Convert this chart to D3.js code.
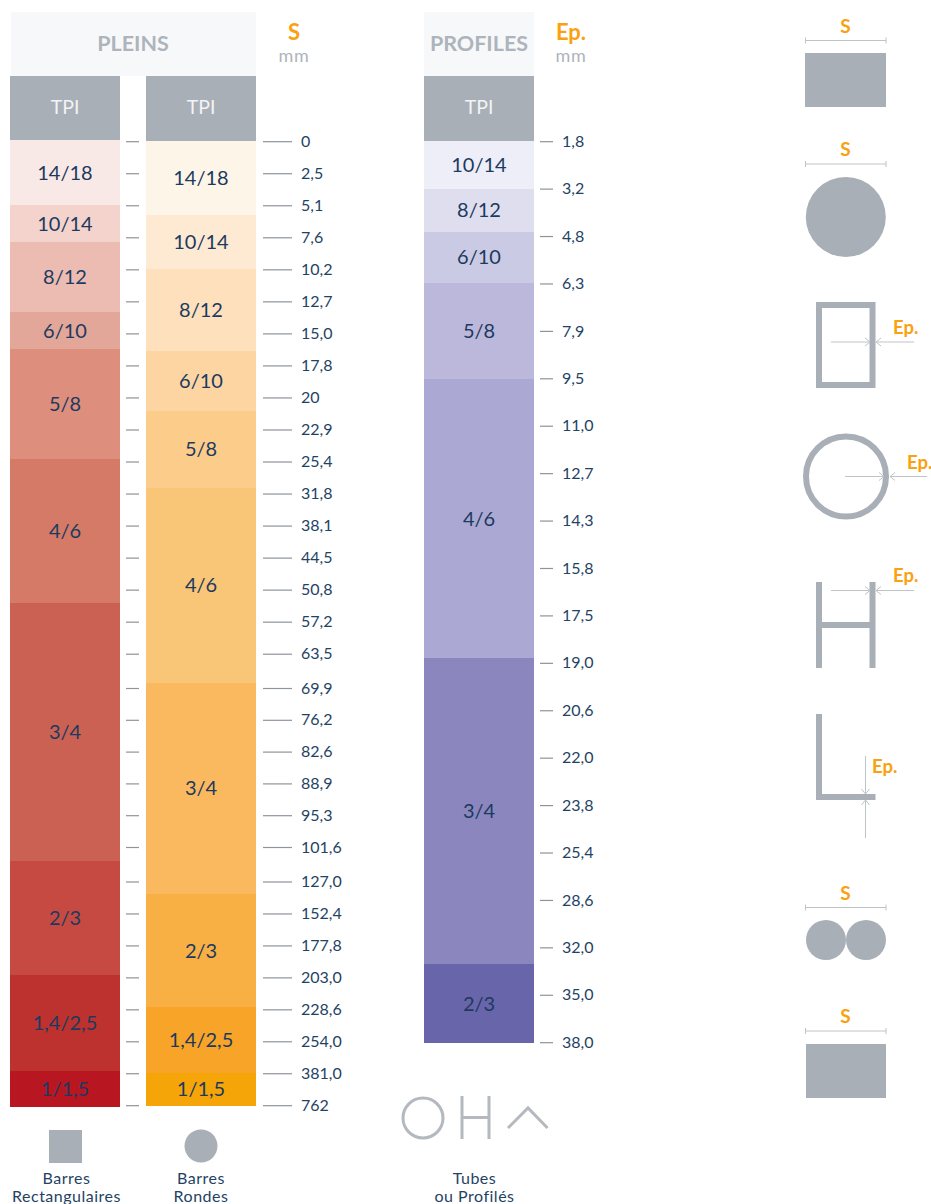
<!DOCTYPE html>
<html>
<head>
<meta charset="utf-8">
<script src="https://cdn.jsdelivr.net/npm/d3@7"></script>
<style>
  body { margin: 0; background: #fff; overflow: hidden; }
  text { font-family: Lato, "Noto Sans", sans-serif; }
</style>
</head>
<body>
<div id="chart"></div>
<script>
// tick labels (mm)
const sizeTicks = ['0','2,5','5,1','7,6','10,2','12,7','15,0','17,8','20','22,9','25,4','31,8','38,1','44,5','50,8','57,2','63,5','69,9','76,2','82,6','88,9','95,3','101,6','127,0','152,4','177,8','203,0','228,6','254,0','381,0','762'];
const epTicks = ['1,8','3,2','4,8','6,3','7,9','9,5','11,0','12,7','14,3','15,8','17,5','19,0','20,6','22,0','23,8','25,4','28,6','32,0','35,0','38,0'];

// TPI bands, edges are read as positions on the tick rows
const rectTpi = ['14/18','10/14','8/12','6/10','5/8','4/6','3/4','2/3','1,4/2,5','1/1,5'];
const rectEdges = [-0.03, 2, 3.15, 5.33, 6.49, 9.92, 14.41, 22.41, 25.93, 28.93, 30.06];
const rectColors = ['#f9e9e6','#f3d3cc','#ecbcb2','#e3a799','#dd8e7c','#d57a67','#cb6152','#c64a41','#bd322e','#b81620'];

const roundTpi = ['14/18','10/14','8/12','6/10','5/8','4/6','3/4','2/3','1,4/2,5','1/1,5'];
const roundEdges = [0, 2.3, 3.99, 6.55, 8.42, 10.82, 16.85, 23.39, 26.93, 28.99, 30.02];
const roundColors = ['#fef5e9','#fee9d2','#fee0bd','#fdd5a3','#fccc8b','#f9c577','#fbb95f','#f8b044','#f8a428','#f6a508'];

const profileTpi = ['10/14','8/12','6/10','5/8','4/6','3/4','2/3'];
const profileEdges = [0, 1, 1.91, 2.98, 5.02, 10.9, 17.36, 19.02];
const profileColors = ['#eeeef8','#dfdeef','#cacae4','#bcb8db','#aba8d3','#8b86be','#6965ab'];

// Constant
const width = 931;
const height = 1204;
const colWidth = 110;
const grey = '#a9afb6';
const titleGrey = '#aeb4bb';
const lightLine = '#bfc4c9';
const orange = '#f9a10e';
const navy = '#1c3a5f';
const tickText = '#1f4364';
const smallText = '16px';

const svg = d3.select('#chart').append('svg')
    .attr('width', width)
    .attr('height', height);

// the rows are not quite even, there are wider gaps after 63,5 and 101,6
const sizeRow = d3.scaleLinear().domain([0, 16, 17, 22, 23, 30]).range([141.2, 653.7, 688, 847, 881.5, 1105.2]);
const epRow = d3.scaleLinear().domain([0, epTicks.length - 1]).range([141.2, 1042.2]);
const sizeY = d3.scaleOrdinal().domain(sizeTicks).range(sizeTicks.map((d, i) => sizeRow(i)));
const epY = d3.scaleOrdinal().domain(epTicks).range(epTicks.map((d, i) => epRow(i)));

const label = (x, y, str, size, color, weight) => svg.append('text')
    .attr('x', x)
    .attr('y', y)
    .attr('text-anchor', 'middle')
    .style('font-size', size + 'px')
    .style('font-weight', weight || 400)
    .attr('fill', color)
    .text(str);

// headers
svg.append('rect').attr('x', 11).attr('y', 12).attr('width', 245).attr('height', 64).attr('fill', '#f7f8fa');
svg.append('rect').attr('x', 424).attr('y', 12).attr('width', 110).attr('height', 64).attr('fill', '#f7f8fa');
label(133, 51, 'PLEINS', 21.5, titleGrey, 700);
label(479, 51, 'PROFILES', 21.5, titleGrey, 700);
label(294, 40, 'S', 22, orange, 700);
label(294, 62, 'mm', 18, titleGrey).style('letter-spacing', '0.6px');
label(571, 40, 'Ep.', 22, orange, 700);
label(571, 62, 'mm', 18, titleGrey).style('letter-spacing', '0.6px');

const drawColumn = (x, tpi, edges, colors, rowScale) => {
    svg.append('rect').attr('x', x).attr('y', 76).attr('width', colWidth).attr('height', rowScale(edges[0]) - 76).attr('fill', grey).attr('shape-rendering', 'crispEdges');
    label(x + colWidth / 2, 114, 'TPI', 19.5, '#f2f3f5');

    const bands = d3.pairs(edges).map((d, i) => ({ y0: d[0], y1: d[1], name: tpi[i], color: colors[i] }));
    const g = svg.append('g');
    g.selectAll('rect')
        .data(bands)
        .join('rect')
        .attr('shape-rendering', 'crispEdges')
        .attr('x', x)
        .attr('y', d => rowScale(d.y0))
        .attr('width', colWidth)
        .attr('height', d => rowScale(d.y1) - rowScale(d.y0))
        .attr('fill', d => d.color);
    g.selectAll('text')
        .data(bands)
        .join('text')
        .attr('x', x + colWidth / 2)
        .attr('y', d => (rowScale(d.y0) + rowScale(d.y1)) / 2)
        .attr('dy', '0.35em')
        .attr('text-anchor', 'middle')
        .style('font-size', '20px')
        .attr('fill', navy)
        .text(d => d.name);
};

drawColumn(10, rectTpi, rectEdges, rectColors, sizeRow);
drawColumn(146, roundTpi, roundEdges, roundColors, sizeRow);
drawColumn(424, profileTpi, profileEdges, profileColors, epRow);

const styleAxis = (g) => {
    g.select('.domain').remove();
    g.selectAll('.tick line').attr('stroke', '#8d949b').attr('stroke-width', 1.2);
    g.selectAll('.tick text').attr('fill', tickText).style('font-size', smallText).style('font-family', 'Lato, "Noto Sans", sans-serif');
};

svg.append('g').attr('transform', 'translate(126,0)')
    .call(d3.axisRight(sizeY).tickSize(13).tickFormat(''))
    .call(styleAxis);
svg.append('g').attr('transform', 'translate(263,0)')
    .call(d3.axisRight(sizeY).tickSize(29).tickPadding(9))
    .call(styleAxis);
svg.append('g').attr('transform', 'translate(540,0)')
    .call(d3.axisRight(epY).tickSize(13).tickPadding(9))
    .call(styleAxis);

// bottom legend
svg.append('rect').attr('x', 49).attr('y', 1130).attr('width', 33).attr('height', 33).attr('fill', grey);
svg.append('circle').attr('cx', 201).attr('cy', 1146).attr('r', 16.5).attr('fill', grey);
const outline = { fill: 'none', stroke: '#b3b9bf', 'stroke-width': 3 };
const applyAttrs = (sel, attrs) => { Object.keys(attrs).forEach(k => sel.attr(k, attrs[k])); return sel; };
applyAttrs(svg.append('circle').attr('cx', 423).attr('cy', 1118).attr('r', 20), outline);
applyAttrs(svg.append('path').attr('d', 'M462,1096V1139M489,1096V1139M462,1117.5H489'), outline);
applyAttrs(svg.append('path').attr('d', 'M508,1128L528,1108L547.5,1128'), outline);
const legendText = (x, y, str) => label(x, y, str, 16, tickText).style('letter-spacing', '0.5px');
legendText(66.5, 1184, 'Barres');
legendText(66.5, 1202, 'Rectangulaires');
legendText(201, 1184, 'Barres');
legendText(201, 1202, 'Rondes');
legendText(474.5, 1184, 'Tubes');
legendText(474.5, 1202, 'ou Profilés');

// section icons on the right
const dimS = (y) => {
    label(845.5, y - 8, 'S', 19, orange, 700);
    svg.append('path').attr('d', `M805.5,${y - 3}v6M805.5,${y}H886M886,${y - 3}v6`).attr('fill', 'none').attr('stroke', lightLine);
};
const arrowH = (x0, xa, xb, x1, y) => {
    svg.append('path')
        .attr('d', `M${x0},${y}H${xa}M${xa - 5},${y - 4}L${xa},${y}L${xa - 5},${y + 4}M${x1},${y}H${xb}M${xb + 5},${y - 4}L${xb},${y}L${xb + 5},${y + 4}`)
        .attr('fill', 'none').attr('stroke', lightLine);
};
const ep = (x, y) => svg.append('text').attr('x', x).attr('y', y).style('font-size', '18.5px').style('font-weight', 700).attr('fill', orange).text('Ep.');

dimS(40.5);
svg.append('rect').attr('x', 805).attr('y', 53).attr('width', 81).attr('height', 54).attr('fill', grey);

dimS(164);
svg.append('circle').attr('cx', 845.8).attr('cy', 217).attr('r', 40).attr('fill', grey);

svg.append('rect').attr('x', 819).attr('y', 305).attr('width', 53.5).attr('height', 80).attr('fill', 'none').attr('stroke', grey).attr('stroke-width', 6);
arrowH(831, 870, 876, 914, 342);
ep(893, 334);

svg.append('circle').attr('cx', 846).attr('cy', 476.5).attr('r', 40).attr('fill', 'none').attr('stroke', grey).attr('stroke-width', 6);
arrowH(845, 884, 890, 927, 476.5);
ep(907, 469);

svg.append('path').attr('d', 'M819,582V668M872.5,582V668M819,625H872.5').attr('fill', 'none').attr('stroke', grey).attr('stroke-width', 6);
arrowH(831, 870, 876, 914, 590.5);
ep(893, 582);

svg.append('path').attr('d', 'M819,714V797H875.5').attr('fill', 'none').attr('stroke', grey).attr('stroke-width', 6);
svg.append('path')
    .attr('d', 'M865.5,756V794M861.5,789L865.5,794L869.5,789M865.5,838V800M861.5,805L865.5,800L869.5,805')
    .attr('fill', 'none').attr('stroke', lightLine);
ep(872, 773);

dimS(907.5);
svg.append('circle').attr('cx', 826).attr('cy', 940).attr('r', 20).attr('fill', grey);
svg.append('circle').attr('cx', 866).attr('cy', 940).attr('r', 20).attr('fill', grey);

dimS(1031);
svg.append('rect').attr('x', 806).attr('y', 1044).attr('width', 80).attr('height', 54).attr('fill', grey);
</script>
</body>
</html>
